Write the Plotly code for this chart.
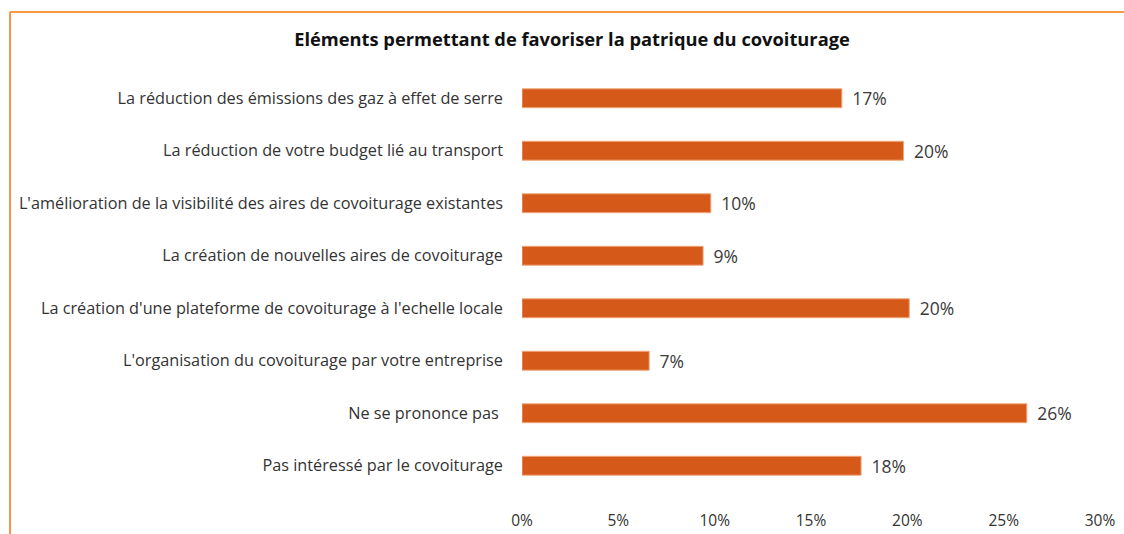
import plotly.graph_objects as go

categories = [
    "La réduction des émissions des gaz à effet de serre",
    "La réduction de votre budget lié au transport",
    "L'amélioration de la visibilité des aires de covoiturage existantes",
    "La création de nouvelles aires de covoiturage",
    "La création d'une plateforme de covoiturage à l'echelle locale",
    "L'organisation du covoiturage par votre entreprise",
    "Ne se prononce pas ",
    "Pas intéressé par le covoiturage",
]
values = [16.6, 19.8, 9.8, 9.4, 20.1, 6.6, 26.2, 17.6]
tick_vals = [0, 5, 10, 15, 20, 25, 30]
tick_text = ["0%", "5%", "10%", "15%", "20%", "25%", "30%"]
title_text = "Eléments permettant de favoriser la patrique du covoiturage"

W, H = 1124, 534
FONT = "'Open Sans', Lato, sans-serif"
ML, MR, MT, MB = 522, 24, 72, 42
PW, PH = W - ML - MR, H - MT - MB

fig = go.Figure(go.Bar(
    y=categories,
    x=values,
    orientation="h",
    marker=dict(color="#D55A19", line=dict(color="#F2A57A", width=1)),
    texttemplate="\u00a0\u2009%{x:.0f}%",
    textposition="outside",
    constraintext="none",
    textfont=dict(family=FONT, size=17.5, color="#3A3A3A"),
    cliponaxis=False,
))

fig.update_layout(
    width=W, height=H,
    paper_bgcolor="white", plot_bgcolor="white",
    margin=dict(l=ML, r=MR, t=MT, b=MB, autoexpand=False),
    bargap=0.64,
    showlegend=False,
    font=dict(family=FONT, color="#333333"),
    title=dict(text="<b>" + title_text + "</b>", x=572 / W, xanchor="center",
               y=1 - 40 / H, yanchor="middle",
               font=dict(family=FONT, size=18.3, color="#111111")),
    xaxis=dict(range=[0, 30], tickvals=tick_vals, ticktext=tick_text,
               showgrid=False, zeroline=False, showline=False, automargin=False,
               tickfont=dict(family=FONT, size=15.5, color="#333333"),
               ticklabelstandoff=17),
    yaxis=dict(autorange="reversed", showgrid=False, showline=False, automargin=False,
               tickfont=dict(family=FONT, size=16.25, color="#333333"),
               ticklabelstandoff=18),
    shapes=[
        dict(type="line", xref="paper", yref="paper",
             x0=(10 - ML) / PW, x1=(W + 20 - ML) / PW,
             y0=(H - 12 - MB) / PH, y1=(H - 12 - MB) / PH,
             line=dict(color="#F79646", width=2)),
        dict(type="line", xref="paper", yref="paper",
             x0=(10 - ML) / PW, x1=(10 - ML) / PW,
             y0=(H - 12 - MB) / PH, y1=(-20 - MB) / PH,
             line=dict(color="#F79646", width=2)),
    ],
)

fig.write_html("out.html", config={"displayModeBar": False},
               post_script="document.body.style.margin='0';")
